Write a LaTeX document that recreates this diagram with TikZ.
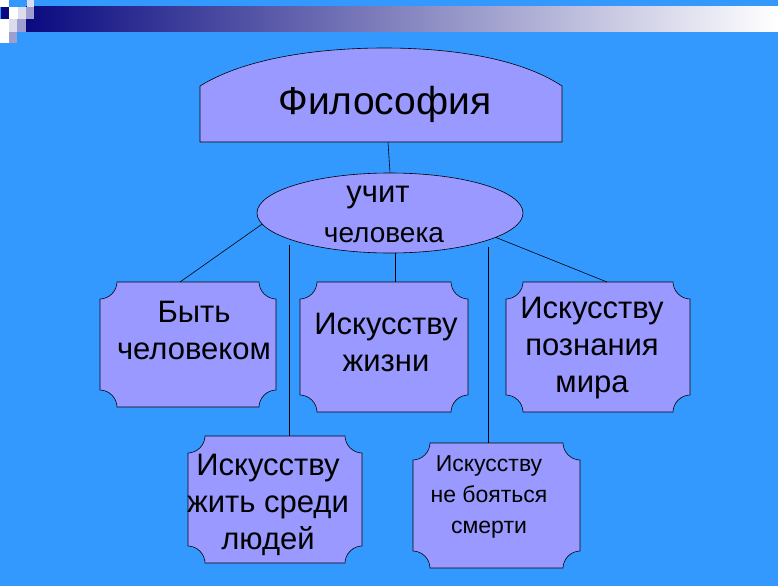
\documentclass[tikz,border=0pt]{standalone}
\usepackage{fontspec}
\setmainfont{Liberation Sans}
\usetikzlibrary{shapes.geometric}
\definecolor{bg}{HTML}{3399FF}
\definecolor{box}{HTML}{9999FF}
\definecolor{navy}{HTML}{0A0A80}
\definecolor{lav}{HTML}{9E9ED0}
\definecolor{lt}{HTML}{DCDCEE}
\newcommand{\plaque}[4]{%
 \def\r{17}%
 \draw[fill=box,line width=0.6pt] (#1,#2+\r) .. controls (#1+9,#2+\r) and (#1+\r,#2+9) .. (#1+\r,#2)
  -- (#3-\r,#2) .. controls (#3-\r,#2+9) and (#3-9,#2+\r) .. (#3,#2+\r)
  -- (#3,#4-\r) .. controls (#3-9,#4-\r) and (#3-\r,#4-9) .. (#3-\r,#4)
  -- (#1+\r,#4) .. controls (#1+\r,#4-9) and (#1+9,#4-\r) .. (#1,#4-\r) -- cycle;}
\tikzset{lbl/.style={font=\fontsize{31}{37}\selectfont,align=center,text=black},
 conn/.style={line width=0.6pt}}
\begin{document}
\begin{tikzpicture}[x=1pt,y=-1pt]
\fill[bg] (0,0) rectangle (778,586);
\useasboundingbox (0,0) rectangle (778,586);
\shade[left color=navy,right color=white] (26,7) rectangle (778,32);
\fill[lt] (27,0) rectangle (34,7);
\fill[white] (0,0) rectangle (9,7);
\fill[navy] (1,7) rectangle (9,19);
\fill[white] (9,7) rectangle (18,19);
\fill[lt] (18,7) rectangle (26,19);
\fill[lav] (26,7) rectangle (34,19);
\fill[white] (0,19) rectangle (9,43);
\fill[lt] (9,19) rectangle (17,32);
\fill[lav] (17,19) rectangle (26,32);
\fill[lav] (9,32) rectangle (17,43);
% top shape
\draw[fill=box,line width=0.6pt] (200,142) -- (200,86) .. controls (250,55) and (330,48) .. (384,48)
  .. controls (440,48) and (515,55) .. (562,86) -- (562,142) -- cycle;
\node[lbl,font=\fontsize{39}{44}\selectfont] (phil) at (385,104) {Философия};
\coordinate (philb) at (388,142);
\node[ellipse,draw,fill=box,line width=0.6pt,minimum width=266,minimum height=80,inner sep=0] (uch) at (390,213) {};
\node[lbl,font=\fontsize{31}{36}\selectfont] at (378,198) {учит};
\node[lbl,font=\fontsize{28}{32}\selectfont] at (384,235) {человека};
\draw[conn] (philb) -- (uch.north);
\plaque{100}{282}{276}{407}\node[lbl] (b1) at (194,330) {Быть\\человеком};
\plaque{300}{282}{468}{412}\node[lbl] (b2) at (386,342) {Искусству\\жизни};
\plaque{506}{282}{690}{412}\node[lbl] (b3) at (592,348) {Искусству\\познания\\мира};
\plaque{188}{436}{362}{563}\node[lbl] (b4) at (268,505) {Искусству\\жить среди\\людей};
\plaque{413}{443}{580}{568}\node[lbl,font=\fontsize{23}{31}\selectfont] (b5) at (489,497) {Искусству\\не бояться\\смерти};
\coordinate (t1) at (180,282); \coordinate (t2) at (395,282); \coordinate (t3) at (607,282);
\coordinate (t4) at (289,436); \coordinate (t5) at (488,443);
\draw[conn] (uch.185) -- (t1);
\draw[conn] (395,253) -- (t2);
\draw[conn] (uch.-13) -- (t3);
\draw[conn] (289,245) -- (t4);
\draw[conn] (488,247) -- (t5);
\end{tikzpicture}
\end{document}
